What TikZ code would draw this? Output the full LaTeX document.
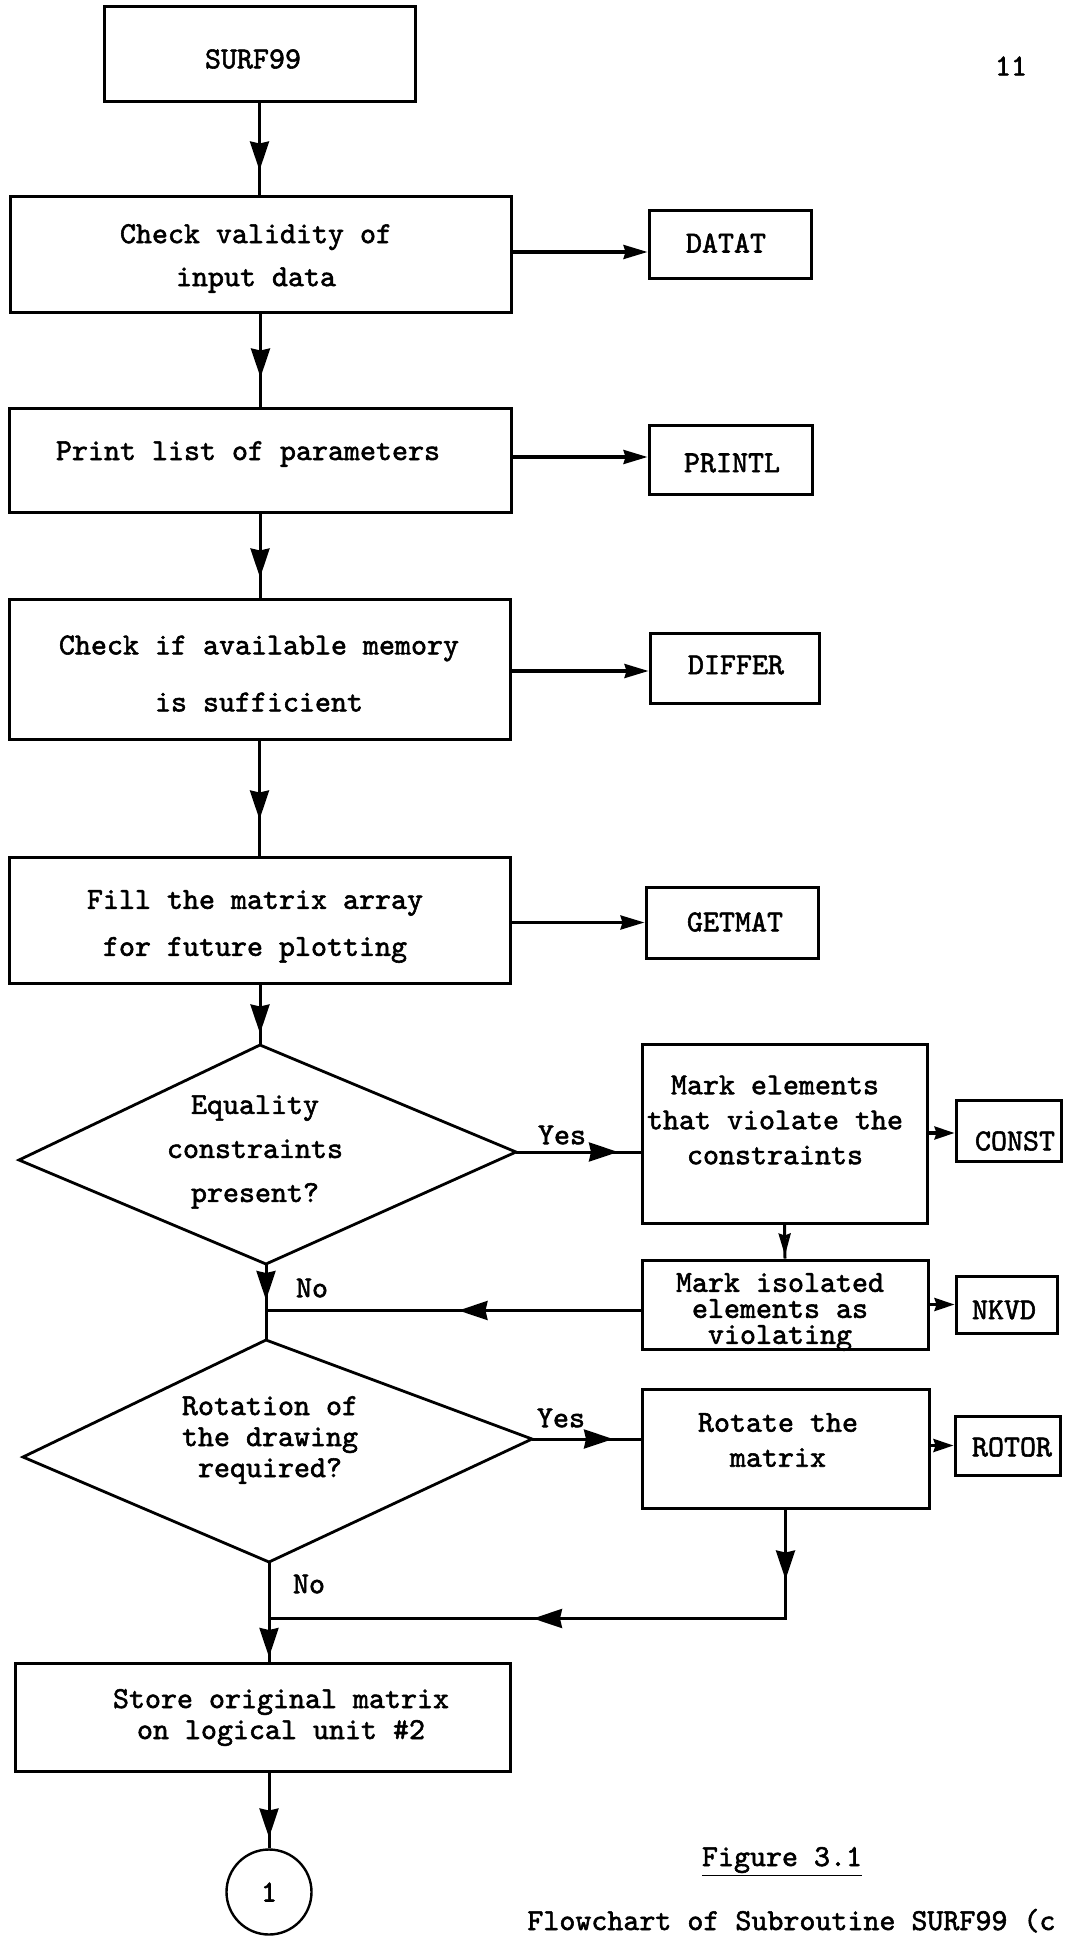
\documentclass[tikz,border=0pt]{standalone}
\usepackage{fontspec}
\setmainfont{Liberation Serif}
\newfontfamily\typefont{lmmono10-regular}[Extension=.otf, FakeBold=1.8]
\usetikzlibrary{arrows.meta,decorations.markings,calc}

\tikzset{
  box/.style={draw, line width=1.5pt, rectangle, inner sep=0pt},
  bx/.style 2 args={minimum width=#1*0.5pt, minimum height=#2*0.5pt},
  txt/.style={font=\typefont\fontsize{15.24}{#1}\selectfont, align=center, inner sep=0pt},
  txt/.default=18pt,
  dia/.style={line width=1.4pt, line join=miter},
  flow/.style={line width=1.5pt},
  midhead/.style={postaction={decorate, decoration={markings,
      mark=at position #1 with {\arrow{Stealth[length=14.5pt,width=9.5pt,inset=1pt]}}}}},
  smallmid/.style={postaction={decorate, decoration={markings,
      mark=at position #1 with {\arrow{Stealth[length=11pt,width=6pt,inset=1pt,open]}}}}},
  side/.style={line width=1.6pt, -{Stealth[length=12pt,width=7pt,inset=1pt]}},
  sidesmall/.style={line width=1.6pt, -{Stealth[length=10pt,width=6.5pt,inset=1pt]}},
}

\begin{document}
\begin{tikzpicture}[x=0.5pt, y=-0.5pt]
\fill[white] (0,0) rectangle (1067,1936);
\useasboundingbox (0,0) rectangle (1067,1936);

% ---- main column boxes
\node[box, bx={311}{95}]  (surf)    at (259.5,54.5) {};
\node[box, bx={501}{116}] (chk)     at (260.5,255)  {};
\node[box, bx={502}{103}] (prt)     at (260,460.5)  {};
\node[box, bx={501}{140}] (mem)     at (259.5,669)  {};
\node[box, bx={501}{126}] (fillmat) at (259.5,920)  {};
\node[box, bx={495}{108}] (store)   at (262.5,1717) {};
\node[draw, circle, line width=1.2pt, minimum size=42.5pt, inner sep=0pt,
      txt] (circ) at (269,1892) {1};

% ---- subroutine boxes
\node[box, bx={162}{68}]  (datat)  at (730,245)     {};
\node[box, bx={163}{68}]  (printl) at (730.5,460)   {};
\node[box, bx={169}{70}]  (differ) at (734.5,668)   {};
\node[box, bx={172}{71}]  (getmat) at (732,922.5)   {};
\node[box, bx={105}{61}]  (const)  at (1008.5,1130.5) {};
\node[box, bx={101}{57}]  (nkvd)   at (1006.5,1304.5) {};
\node[box, bx={105}{59}]  (rotor)  at (1007.5,1445.5) {};

% ---- right-hand process boxes
\node[box, bx={285}{179}] (markel)  at (784.5,1133.5) {};
\node[box, bx={286}{89}]  (markiso) at (785,1304.5)   {};
\node[box, bx={287}{119}] (rotate)  at (785.5,1448.5) {};

% ---- decisions
\coordinate (d1t) at (260,1045);
\coordinate (d1r) at (516,1152);
\coordinate (d1b) at (266,1264);
\coordinate (d1l) at (19,1160);
\draw[dia] (d1t) -- (d1r) -- (d1b) -- (d1l) -- cycle;
\coordinate (d2t) at (266,1340);
\coordinate (d2r) at (532,1439);
\coordinate (d2b) at (269,1562);
\coordinate (d2l) at (23,1457);
\draw[dia] (d2t) -- (d2r) -- (d2b) -- (d2l) -- cycle;

% ---- texts
\node[txt] (tSurf)   at (253,59)      {SURF99};
\node[txt=21.5pt] (tChk)  at (256,258.5) {Check validity of\\input data};
\node[txt] (tPrt)    at (248,454)     {Print list of parameters};
\node[txt=28.5pt] (tMem)  at (259,673.5) {Check if available memory\\is sufficient};
\node[txt=23.5pt] (tFill) at (255,926.5) {Fill the matrix array\\for future plotting};
\node[txt=22pt] (tD1)     at (255,1152)  {Equality\\constraints\\present?};
\node[txt=17.5pt] (tMarkEl)  at (775,1120) {Mark elements\\that violate the\\constraints};
\node[txt=13pt] (tMarkIso) at (780,1312) {Mark isolated\\elements as\\violating};
\node[txt=15.5pt] (tD2)   at (270,1440)  {Rotation of\\the drawing\\required?};
\node[txt=17.5pt] (tRot)  at (778,1440)  {Rotate the\\matrix};
\node[txt=15.5pt] (tStore) at (281,1717.5) {Store original matrix\\on logical unit \#2};
\node[txt] (tDatat)  at (726,243)   {DATAT};
\node[txt] (tPrintl) at (732,463)   {PRINTL};
\node[txt] (tDiffer) at (736,665)   {DIFFER};
\node[txt] (tGetmat) at (735,922)   {GETMAT};
\node[txt] (tConst)  at (1015,1141) {CONST};
\node[txt] (tNkvd)   at (1004,1310) {NKVD};
\node[txt] (tRotor)  at (1012,1447) {ROTOR};
\node[txt] (yes1) at (562,1135) {Yes};
\node[txt] (yes2) at (561,1418) {Yes};
\node[txt] (no1)  at (312,1288) {No};
\node[txt] (no2)  at (309,1584) {No};
\node[txt] (pageno) at (1011,66) {11};
\node[txt, anchor=base] (fig) at (782,1866) {\underline{Figure 3.1}};
\node[txt, anchor=base west] (caption) at (527,1930) {Flowchart of Subroutine SURF99 (c};

% ---- main flow
\draw[flow, midhead=33.5pt] (surf.south) -- (surf.south |- chk.north);
\draw[flow, midhead=31.5pt] (chk.south) -- (chk.south |- prt.north);
\draw[flow, midhead=32pt]   (prt.south) -- (prt.south |- mem.north);
\draw[flow, midhead=39.5pt] (mem.south) -- (mem.south |- fillmat.north);
\draw[flow, midhead=24.5pt] (fillmat.south -| d1t) -- (d1t);

% ---- calls to subroutines
\coordinate (datatIn) at ($(datat.west)+(0,7)$);
\draw[side] (chk.east |- datatIn) -- (datatIn);
\coordinate (printlIn) at ($(printl.west)+(0,-3)$);
\draw[side] (prt.east |- printlIn) -- (printlIn);
\coordinate (differIn) at ($(differ.west)+(0,3)$);
\draw[side] (mem.east |- differIn) -- (differIn);
\draw[side] (fillmat.east |- getmat.west) -- (getmat.west);
\coordinate (constIn) at ($(const.west)+(0,2.5)$);
\draw[sidesmall] (markel.east |- constIn) -- (constIn);
\draw[sidesmall] (markiso.east |- nkvd.west) -- (nkvd.west);
\draw[sidesmall] (rotate.east |- rotor.west) -- (rotor.west);

% ---- equality constraints branch
\draw[flow, midhead=51pt] (d1r) -- (d1r -| markel.west);
\draw[flow, smallmid=15.5pt] (markel.south) -- (markiso.north);
\coordinate (isoOut) at ($(markiso.west)+(0,6)$);
\coordinate (j1) at (d1b |- isoOut);
\draw[flow, midhead=91pt] (isoOut) -- (j1);
\draw[flow, midhead=18pt] (d1b) -- (d2t);

% ---- rotation branch
\draw[flow, midhead=40.5pt] (d2r) -- (d2r -| rotate.west);
\coordinate (rotRet) at ($(rotate.south)+(0,109)$);
\coordinate (j2) at (d2b |- rotRet);
\draw[flow, midhead=35pt, midhead=180.75pt] (rotate.south) -- (rotRet) -- (j2);
\draw[flow, midhead=47.5pt] (d2b) -- (d2b |- store.north);
\draw[flow, midhead=32.5pt] (circ.north |- store.south) -- (circ.north);
\end{tikzpicture}
\end{document}
